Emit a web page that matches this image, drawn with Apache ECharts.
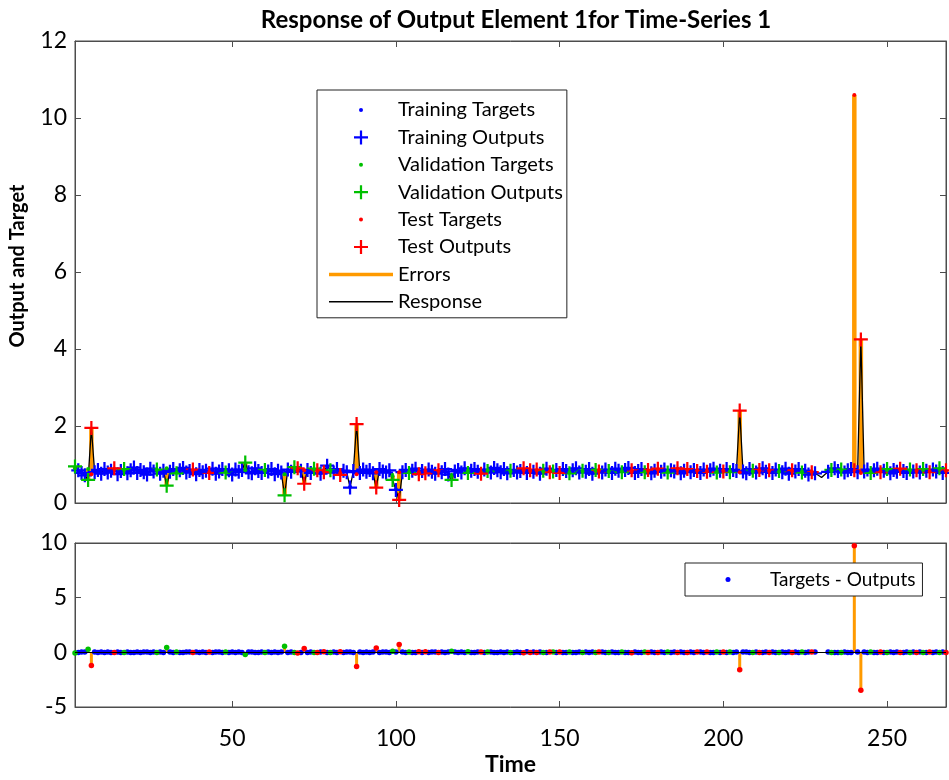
<!DOCTYPE html>
<html>
<head>
<meta charset="utf-8">
<title>Response of Output Element 1for Time-Series 1</title>
<script src="https://cdn.jsdelivr.net/npm/echarts@6/dist/echarts.min.js"></script>
<style>
    html, body { margin: 0; padding: 0; background: #fff; }
    #response { width: 949px; height: 780px; }
</style>
</head>
<body>
<div id="response"></div>
<script>
// one value per time step, the first one is step 2
var firstStep = 2;

var outputs = [
    0.95, 0.85, 0.78, 0.72, 0.60, 1.95, 0.80, 0.86, 0.76, 0.88,
    0.79, 0.84, 0.90, 0.75, 0.83, 0.88, 0.77, 0.85, 0.92, 0.78,
    0.86, 0.80, 0.74, 0.89, 0.82, 0.87, 0.76, 0.84, 0.45, 0.81,
    0.88, 0.77, 0.85, 0.91, 0.79, 0.83, 0.87, 0.75, 0.86, 0.80,
    0.84, 0.78, 0.89, 0.76, 0.82, 0.88, 0.79, 0.85, 0.74, 0.87,
    0.81, 0.86, 1.05, 0.80, 0.77, 0.90, 0.83, 0.78, 0.86, 0.82,
    0.88, 0.75, 0.84, 0.79, 0.20, 0.87, 0.81, 0.93, 0.90, 0.84,
    0.50, 0.86, 0.78, 0.89, 0.85, 0.76, 0.80, 0.97, 0.85, 0.79,
    0.88, 0.73, 0.84, 0.80, 0.40, 0.83, 2.05, 0.78, 0.87, 0.81,
    0.86, 0.77, 0.40, 0.88, 0.82, 0.79, 0.85, 0.60, 0.34, 0.08,
    0.80, 0.86, 0.78, 0.84, 0.89, 0.75, 0.83, 0.77, 0.87, 0.81,
    0.76, 0.85, 0.80, 0.88, 0.74, 0.60, 0.82, 0.86, 0.79, 0.90,
    0.78, 0.84, 0.88, 0.81, 0.76, 0.87, 0.83, 0.79, 0.91, 0.85,
    0.80, 0.88, 0.77, 0.84, 0.86, 0.79, 0.83, 0.90, 0.78, 0.85,
    0.81, 0.87, 0.76, 0.84, 0.89, 0.80, 0.82, 0.86, 0.78, 0.88,
    0.83, 0.77, 0.85, 0.90, 0.79, 0.84, 0.81, 0.88, 0.76, 0.86,
    0.82, 0.79, 0.87, 0.83, 0.78, 0.89, 0.84, 0.80, 0.86, 0.91,
    0.85, 0.78, 0.83, 0.88, 0.80, 0.86, 0.77, 0.84, 0.89, 0.81,
    0.87, 0.79, 0.85, 0.82, 0.90, 0.77, 0.84, 0.88, 0.80, 0.86,
    0.83, 0.78, 0.87, 0.81, 0.85, 0.89, 0.79, 0.84, 0.82, 0.88,
    0.80, 0.86, 0.83, 2.40, 0.82, 0.77, 0.88, 0.84, 0.79, 0.86,
    0.90, 0.81, 0.85, 0.78, 0.87, 0.83, 0.80, 0.89, 0.76, 0.85,
    0.82, 0.88, 0.79, 0.84, 0.74, 0.80, 0.77, 0.72, 0.66, 0.74,
    0.81, 0.86, 0.90, 0.83, 0.87, 0.79, 0.85, 0.88, 0.85, 0.80,
    4.25, 0.82, 0.87, 0.78, 0.85, 0.89, 0.80, 0.84, 0.88, 0.77,
    0.86, 0.81, 0.89, 0.83, 0.78, 0.87, 0.82, 0.85, 0.79, 0.88,
    0.84, 0.80, 0.87, 0.82, 0.90, 0.78, 0.85
];

// null = no target at that step
var targets = [
    0.90, 0.83, 0.80, 0.74, 0.88, 0.75, 0.82, 0.84, 0.78, 0.86,
    0.81, 0.82, 0.88, 0.77, 0.81, 0.86, 0.79, 0.83, 0.90, 0.80,
    0.84, 0.82, 0.76, 0.87, 0.84, 0.85, 0.78, 0.82, 0.90, 0.83,
    0.86, 0.79, 0.83, 0.89, 0.81, 0.85, 0.85, 0.77, 0.84, 0.82,
    0.82, 0.80, 0.87, 0.78, 0.84, 0.86, 0.81, 0.83, 0.76, 0.85,
    0.83, 0.84, 0.85, 0.82, 0.79, 0.88, 0.81, 0.80, 0.84, 0.84,
    0.86, 0.77, 0.82, 0.81, 0.75, 0.85, 0.83, 0.91, 0.84, 0.82,
    0.85, 0.84, 0.80, 0.87, 0.83, 0.78, 0.86, 0.95, 0.83, 0.81,
    0.86, 0.78, 0.82, 0.82, 0.42, 0.81, 0.75, 0.80, 0.85, 0.83,
    0.84, 0.79, 0.80, 0.86, 0.84, 0.81, 0.83, 0.70, 0.36, 0.80,
    0.82, 0.84, 0.80, 0.82, 0.87, 0.80, 0.81, 0.83, 0.85, 0.83,
    0.78, 0.83, 0.82, 0.86, 0.76, 0.70, 0.84, 0.84, 0.81, 0.88,
    0.84, 0.82, 0.86, 0.83, 0.78, 0.85, 0.85, 0.81, 0.89, 0.83,
    0.82, 0.86, 0.79, 0.82, 0.84, 0.81, 0.81, 0.86, 0.83, 0.83,
    0.83, 0.85, 0.78, 0.82, 0.87, 0.82, 0.84, 0.84, 0.80, 0.86,
    0.81, 0.79, 0.83, 0.88, 0.81, 0.82, 0.83, 0.86, 0.78, 0.84,
    0.86, 0.81, 0.85, 0.81, 0.80, 0.87, 0.82, 0.82, 0.84, 0.89,
    0.81, 0.80, 0.81, 0.86, 0.82, 0.84, 0.79, 0.82, 0.87, 0.83,
    0.85, 0.81, 0.83, 0.84, 0.88, 0.79, 0.82, 0.86, 0.82, 0.84,
    0.85, 0.80, 0.85, 0.83, 0.83, 0.87, 0.81, 0.82, 0.84, 0.86,
    0.82, 0.84, 0.85, 0.80, 0.84, 0.79, 0.86, 0.82, 0.81, 0.84,
    0.88, 0.83, 0.83, 0.80, 0.85, 0.81, 0.82, 0.87, 0.78, 0.83,
    0.84, 0.86, 0.81, 0.82, 0.76, 0.82, 0.79, null, null, null,
    0.83, 0.84, 0.88, 0.81, 0.85, 0.81, 0.83, 0.86, 10.60, 0.82,
    0.78, 0.84, 0.85, 0.80, 0.83, 0.87, 0.82, 0.82, 0.86, 0.79,
    0.84, 0.83, 0.87, 0.81, 0.80, 0.85, 0.84, 0.83, 0.81, 0.86,
    0.82, 0.82, 0.85, 0.84, 0.88, 0.80, 0.83
];

var validationSteps = [2, 6, 17, 27, 30, 33, 48, 54, 60, 66, 69, 75, 80, 99, 104, 117, 122, 128,
    135, 145, 148, 153, 157, 161, 165, 169, 176, 183, 198, 202, 209, 217, 224, 233, 236, 245,
    250, 257, 261, 266];
var testSteps = [7, 14, 38, 43, 70, 72, 76, 78, 83, 88, 94, 101, 107, 109, 113, 126, 139, 141,
    143, 147, 150, 162, 172, 177, 180, 186, 189, 192, 195, 200, 205, 211, 214, 221, 227, 240,
    242, 248, 254, 259, 263, 268];

var xTicks = [50, 100, 150, 200, 250];

var FONT = 'Lato';
var plusIcon = 'path://M0,4.2H4.2V0H5.8V4.2H10V5.8H5.8V10H4.2V5.8H0Z';
// the leading moves only widen the icon box so the dot keeps its small size
var dotIcon = 'path://M0,0M14,14M5,7a2,2 0 1,0 4,0a2,2 0 1,0 -4,0Z';
var wideDotIcon = 'path://M0,0M74,14M34.5,7a2.5,2.5 0 1,0 5,0a2.5,2.5 0 1,0 -5,0Z';

var groups = {
    train: {label: 'Training', color: '#0000ff', targets: [], outputs: [], errors: []},
    val: {label: 'Validation', color: '#00c000', targets: [], outputs: [], errors: []},
    test: {label: 'Test', color: '#ff0000', targets: [], outputs: [], errors: []}
};
var response = [];
var errorBars = [];
var errorStems = [];

outputs.forEach(function (out, i) {
    var step = firstStep + i;
    response.push([step, out]);
    var tgt = targets[i];
    if (tgt === null) return;
    var key = 'train';
    if (validationSteps.indexOf(step) >= 0) key = 'val';
    if (testSteps.indexOf(step) >= 0) key = 'test';
    var err = +(tgt - out).toFixed(2);
    groups[key].targets.push([step, tgt]);
    groups[key].outputs.push([step, out]);
    groups[key].errors.push([step, err]);
    errorBars.push([step, tgt, out]);
    errorStems.push([step, 0, err]);
});

function barRenderer(width) {
    return function (params, api) {
        var a = api.coord([api.value(0), api.value(1)]);
        var b = api.coord([api.value(0), api.value(2)]);
        return {
            type: 'rect',
            shape: {x: a[0] - width / 2, y: Math.min(a[1], b[1]), width: width, height: Math.abs(a[1] - b[1])},
            style: {fill: api.visual('color')}
        };
    };
}

var axisColor = '#4d4d4d';
var labelStyle = {fontFamily: FONT, fontSize: 23, color: '#000'};

function xAxis(grid, position, labels) {
    return {
        type: 'value', gridIndex: grid, position: position, min: 2, max: 268,
        axisLine: {onZero: false, lineStyle: {color: axisColor}},
        axisTick: {inside: true, length: 6, customValues: xTicks, lineStyle: {color: axisColor}},
        axisLabel: labels ? Object.assign({customValues: xTicks, margin: 20}, labelStyle) : {show: false},
        splitLine: {show: false}
    };
}

function yAxis(grid, position, min, max, step, labels) {
    return {
        type: 'value', gridIndex: grid, position: position, min: min, max: max, interval: step,
        axisLine: {onZero: false, lineStyle: {color: axisColor}},
        axisTick: {inside: true, length: 6, lineStyle: {color: axisColor}},
        axisLabel: labels ? Object.assign({margin: 8}, labelStyle) : {show: false},
        splitLine: {show: false}
    };
}

var xAxes = [xAxis(0, 'bottom', false), xAxis(0, 'top', false), xAxis(1, 'bottom', true), xAxis(1, 'top', false)];
xAxes[2].name = 'Time';
xAxes[2].nameLocation = 'middle';
xAxes[2].nameGap = 46;
xAxes[2].nameTextStyle = {fontFamily: FONT, fontSize: 23, fontWeight: 'bold', color: '#000'};

var yAxes = [yAxis(0, 'left', 0, 12, 2, true), yAxis(0, 'right', 0, 12, 2, false),
    yAxis(1, 'left', -5, 10, 5, true), yAxis(1, 'right', -5, 10, 5, false)];
yAxes[0].name = 'Output and Target';
yAxes[0].nameLocation = 'middle';
yAxes[0].nameGap = 47;
yAxes[0].nameTextStyle = {fontFamily: FONT, fontSize: 20, fontWeight: 'bold', color: '#000',
    padding: [0, 0, 0, 12]};

var series = [
    {
        name: 'Errors', type: 'custom', xAxisIndex: 0, yAxisIndex: 0, z: 1,
        itemStyle: {color: '#ff9a00'}, renderItem: barRenderer(4.5),
        encode: {x: 0, y: [1, 2]}, data: errorBars
    },
    {
        name: 'Response', type: 'line', xAxisIndex: 0, yAxisIndex: 0, z: 2,
        showSymbol: false, symbol: 'none', color: '#000',
        lineStyle: {color: '#000', width: 1.3}, data: response
    },
    {
        name: 'Error stems', type: 'custom', xAxisIndex: 2, yAxisIndex: 2, z: 2,
        itemStyle: {color: '#ff9a00'}, renderItem: barRenderer(3),
        encode: {x: 0, y: [1, 2]}, data: errorStems,
        markLine: {
            silent: true, symbol: 'none', label: {show: false},
            lineStyle: {color: '#000', width: 1, type: 'solid'},
            data: [{yAxis: 0}]
        }
    }
];

['train', 'val', 'test'].forEach(function (key) {
    var g = groups[key];
    series.push({
        name: g.label + ' Outputs', type: 'scatter', xAxisIndex: 0, yAxisIndex: 0, z: 3,
        symbol: plusIcon, symbolSize: 14, itemStyle: {color: g.color, opacity: 1},
        data: g.outputs
    });
});
['train', 'val', 'test'].forEach(function (key) {
    var g = groups[key];
    series.push({
        name: g.label + ' Targets', type: 'scatter', xAxisIndex: 0, yAxisIndex: 0, z: 4,
        symbol: 'circle', symbolSize: 4, itemStyle: {color: g.color, opacity: 1},
        data: g.targets
    });
    series.push({
        name: key === 'train' ? 'Targets - Outputs' : g.label + ' Errors',
        type: 'scatter', xAxisIndex: 2, yAxisIndex: 2, z: 4,
        symbol: 'circle', symbolSize: 5.5, itemStyle: {color: g.color, opacity: 1},
        data: g.errors
    });
});

var option = {
    animation: false,
    backgroundColor: '#fff',
    title: {
        text: 'Response of Output Element 1for Time-Series 1',
        left: 511, top: 3, textAlign: 'center',
        textStyle: {fontFamily: FONT, fontSize: 24, fontWeight: 'bold', color: '#000'}
    },
    grid: [
        {left: 75, right: 3, top: 41, height: 462, show: true, borderColor: axisColor, borderWidth: 1},
        {left: 75, right: 3, top: 543, height: 164, show: true, borderColor: axisColor, borderWidth: 1}
    ],
    legend: [
        {
            orient: 'vertical', left: 317, top: 90, selectedMode: false,
            itemWidth: 64, itemHeight: 14, itemGap: 7.4, padding: [10, 4, 6, 12],
            borderColor: '#222', borderWidth: 1, backgroundColor: '#fff',
            textStyle: {fontFamily: FONT, fontSize: 20, color: '#000', lineHeight: 20},
            data: [
                {name: 'Training Targets', icon: dotIcon},
                {name: 'Training Outputs', icon: plusIcon},
                {name: 'Validation Targets', icon: dotIcon},
                {name: 'Validation Outputs', icon: plusIcon},
                {name: 'Test Targets', icon: dotIcon},
                {name: 'Test Outputs', icon: plusIcon},
                {name: 'Errors', icon: 'path://M0,0H64V3.5H0Z'},
                {name: 'Response', icon: 'path://M0,0H64V1.5H0Z'}
            ]
        },
        {
            orient: 'vertical', left: 685, top: 563, selectedMode: false,
            itemWidth: 74, itemHeight: 14, padding: [7, 7, 7, 6],
            borderColor: '#222', borderWidth: 1, backgroundColor: '#fff',
            textStyle: {fontFamily: FONT, fontSize: 19, color: '#000', lineHeight: 18},
            data: [{name: 'Targets - Outputs', icon: wideDotIcon}]
        }
    ],
    xAxis: xAxes,
    yAxis: yAxes,
    series: series
};

var chart = echarts.init(document.getElementById('response'));
chart.setOption(option);
</script>
</body>
</html>
